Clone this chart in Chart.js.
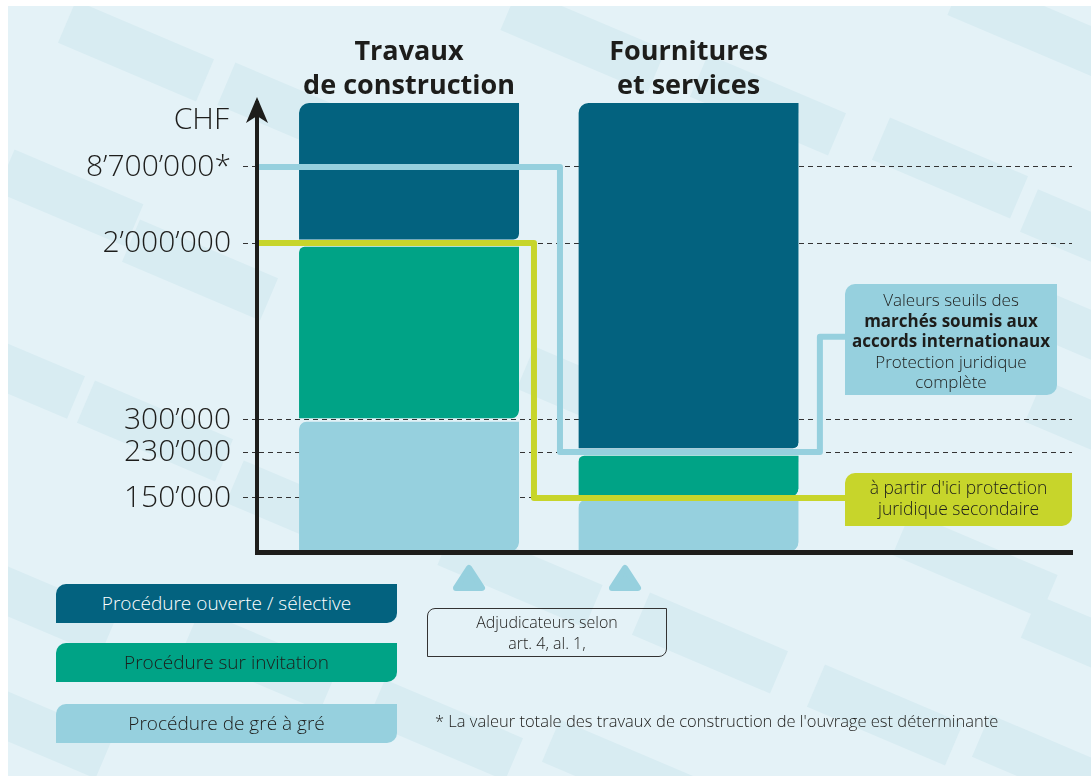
<!DOCTYPE html>
<html>
<head>
<meta charset="utf-8">
<title>Valeurs seuils</title>
<script src="https://cdn.jsdelivr.net/npm/chart.js@4.4.1/dist/chart.umd.min.js"></script>
<style>
  body { margin:0; width:1091px; height:776px; overflow:hidden; background:#fff; position:relative;
         font-family:'Open Sans', sans-serif; color:#1d1d1b; }
  #page { position:absolute; left:8px; top:6px; width:1083px; height:770px; background:#e4f2f7; overflow:hidden; }
  .stripe { position:absolute; height:46px; background:#d8ecf2; transform:translate(-50%,-50%) rotate(23deg); }
  #chartbox { position:absolute; left:0; top:0; width:1091px; height:776px; z-index:1; }
  .box { position:absolute; z-index:2; text-align:center; box-sizing:border-box; border-radius:10px 0 10px 0; }
  .legend-item { left:56px; width:341px; height:39px; line-height:39px; font-size:19px; font-weight:300; }
  #intl { left:845px; top:284px; width:212px; height:111px; background:#96d0de; font-size:17px;
          line-height:20.5px; padding-top:6px; font-weight:300; white-space:nowrap; }
  #intl b { font-weight:700; }
  #sec { left:845px; top:473px; width:227px; height:53px; background:#c7d52b; font-size:17.5px;
         line-height:21px; padding-top:4px; font-weight:300; white-space:nowrap; }
  #adjud { left:427px; top:608px; width:240px; height:49px; border:1px solid #333; border-radius:8px 0 8px 0;
           font-size:16px; line-height:21px; padding-top:3px; font-weight:300; }
  #note { position:absolute; z-index:2; left:435px; top:709px; font-size:16.5px; font-weight:300; white-space:nowrap; }
  .tri { position:absolute; z-index:2; top:564px; }
</style>
</head>
<body>
<div id="page"></div>
<div id="chartbox"><canvas id="chart"></canvas></div>
<div id="legend"></div>
<div class="box" id="intl">Valeurs seuils des<br><b>marchés soumis aux<br>accords internationaux</b><br>Protection juridique<br>complète</div>
<div class="box" id="sec">à partir d'ici protection<br>juridique secondaire</div>
<svg class="tri" style="left:452px" width="34" height="28"><polygon points="17,4 30,24 4,24" fill="#96d0de" stroke="#96d0de" stroke-width="6" stroke-linejoin="round"/></svg>
<svg class="tri" style="left:608px" width="34" height="28"><polygon points="17,4 30,24 4,24" fill="#96d0de" stroke="#96d0de" stroke-width="6" stroke-linejoin="round"/></svg>
<div class="box" id="adjud">Adjudicateurs selon<br>art. 4, al. 1,</div>
<div id="note">* La valeur totale des travaux de construction de l'ouvrage est déterminante</div>

<script>
// data
const categories = [['Travaux', 'de construction'], ['Fournitures', 'et services']];
const seriesNames = ['Procédure ouverte / sélective', 'Procédure sur invitation', 'Procédure de gré à gré'];
const openValues = [[2000000, 12000000], [230000, 12000000]];
const invitationValues = [[300000, 2000000], [150000, 230000]];
const directValues = [[0, 300000], [0, 150000]];
const tickValues = [150000, 230000, 300000, 2000000, 8700000];
const tickLabels = ['150’000', '230’000', '300’000', '2’000’000', '8’700’000*'];
// threshold lines (x in bar units on the same axis)
const intlLineX = [0.456, 1.54, 1.54, 2.47, 2.47, 2.56];
const intlLineY = [8700000, 8700000, 230000, 230000, 1100000, 1100000];
const secLineX = [0.456, 1.447, 1.447, 2.56];
const secLineY = [2000000, 2000000, 150000, 150000];

const colors = ['#03627f', '#00a386', '#96d0de'];
const legendText = ['#ffffff', '#1d1d1b', '#1d1d1b'];

// background stripes
const stripes = [[136,51,150],[300,115,160],[583,40,160],[768,105,150],[950,168,150],[1030,25,160],
  [1075,230,100],[70,198,140],[200,270,150],[30,378,100],[155,431,150],[290,505,120],[590,395,140],
  [1080,330,120],[1080,420,100],[975,565,160],[40,605,150],[260,660,150],[40,730,140],[445,730,150],
  [520,575,160],[710,643,150],[885,715,150],[1085,640,120],[620,770,150],[1050,765,150]];
const page = document.getElementById('page');
stripes.forEach(s => {
  const d = document.createElement('div');
  d.className = 'stripe';
  d.style.left = (s[0] - 8) + 'px';
  d.style.top = (s[1] - 6) + 'px';
  d.style.width = s[2] + 'px';
  page.appendChild(d);
});

// legend
const legend = document.getElementById('legend');
const legendTops = [584, 643, 704];
seriesNames.forEach((n, i) => {
  const d = document.createElement('div');
  d.className = 'box legend-item';
  d.style.top = legendTops[i] + 'px';
  d.style.background = colors[i];
  d.style.color = legendText[i];
  d.textContent = n;
  legend.appendChild(d);
});

// piecewise linear value axis
class BreakScale extends Chart.LinearScale {
  getPixelForValue(value) {
    const b = this.options.breaks;
    let d = 1;
    for (let i = 1; i < b.length; i++) {
      if (value <= b[i][0]) {
        d = b[i-1][1] + (value - b[i-1][0]) / (b[i][0] - b[i-1][0]) * (b[i][1] - b[i-1][1]);
        break;
      }
    }
    return this.getPixelForDecimal(d);
  }
  getValueForPixel(pixel) {
    const b = this.options.breaks;
    const d = this.getDecimalForPixel(pixel);
    for (let i = 1; i < b.length; i++) {
      if (d <= b[i][1]) {
        return b[i-1][0] + (d - b[i-1][1]) / (b[i][1] - b[i-1][1]) * (b[i][0] - b[i-1][0]);
      }
    }
    return b[b.length - 1][0];
  }
}
BreakScale.id = 'breaks';
BreakScale.defaults = {};
Chart.register(BreakScale);

const axisExtras = {
  id: 'axisExtras',
  afterDraw(chart) {
    const {ctx, chartArea} = chart;
    const x = chartArea.left, top = chartArea.top;
    ctx.save();
    ctx.fillStyle = '#1d1d1b';
    ctx.beginPath();
    ctx.moveTo(x, top - 6);
    ctx.lineTo(x + 11, top + 20);
    ctx.lineTo(x, top + 13);
    ctx.lineTo(x - 11, top + 20);
    ctx.closePath();
    ctx.fill();
    ctx.font = '300 30px "Open Sans"';
    ctx.textAlign = 'right';
    ctx.textBaseline = 'middle';
    ctx.fillText('CHF', x - 28, top + 17);
    ctx.restore();
  }
};

const barSets = [openValues, invitationValues, directValues];
const gaps = [{top:0, bottom:4, left:0, right:0}, {top:4, bottom:2, left:0, right:0}, {top:2, bottom:0, left:0, right:0}];
const datasets = barSets.map((vals, i) => ({
  type: 'bar',
  label: seriesNames[i],
  data: vals.map((v, j) => ({x: j + 1, y: v})),
  backgroundColor: colors[i],
  borderColor: 'rgba(0,0,0,0)',
  borderWidth: gaps[i],
  borderSkipped: false,
  borderRadius: {topLeft: 10, topRight: 0, bottomLeft: 0, bottomRight: 10},
  barThickness: 220,
  grouped: false,
  order: 1
}));
datasets.push({
  type: 'line', label: 'intl',
  data: intlLineX.map((x, i) => ({x: x, y: intlLineY[i]})),
  borderColor: '#96d0de', borderWidth: 6, pointRadius: 0, borderJoinStyle: 'round', order: 0
});
datasets.push({
  type: 'line', label: 'sec',
  data: secLineX.map((x, i) => ({x: x, y: secLineY[i]})),
  borderColor: '#c7d52b', borderWidth: 6, pointRadius: 0, borderJoinStyle: 'round', order: 0
});

const catTicks = axis => { axis.ticks = categories.map((c, i) => ({value: i + 1})); };

new Chart(document.getElementById('chart'), {
  data: {datasets: datasets},
  options: {
    responsive: true,
    maintainAspectRatio: false,
    animation: false,
    events: [],
    layout: {padding: {left: 0, right: 19, top: 0, bottom: 0}},
    plugins: {legend: {display: false}, tooltip: {enabled: false}},
    scales: {
      x: {
        type: 'linear', position: 'bottom', min: 0.456, max: 3.372, offset: false,
        afterBuildTicks: catTicks,
        afterFit: axis => { axis.height = 224; },
        ticks: {display: false},
        grid: {display: false, drawTicks: false, offset: false},
        border: {display: true, color: '#1d1d1b', width: 5, z: 1}
      },
      xt: {
        type: 'linear', position: 'top', min: 0.456, max: 3.372, offset: false,
        afterBuildTicks: catTicks,
        afterFit: axis => { axis.height = 103; },
        ticks: {
          autoSkip: false, maxRotation: 0, padding: 0, color: '#1d1d1b',
          font: {family: 'Open Sans', size: 27, weight: 'bold', lineHeight: 1.25},
          callback: v => categories[v - 1]
        },
        grid: {display: false, drawTicks: false},
        border: {display: false}
      },
      y: {
        type: 'breaks', min: 0, max: 12000000,
        breaks: [[0, 0], [150000, 0.1203], [230000, 0.2227], [300000, 0.294], [2000000, 0.688], [8700000, 0.8575], [12000000, 1]],
        afterBuildTicks: axis => { axis.ticks = tickValues.map(v => ({value: v})); },
        afterFit: axis => { axis.width = 257; },
        ticks: {
          padding: 12, color: '#1d1d1b',
          font: {family: 'Open Sans', size: 30, weight: '300'},
          callback: v => tickLabels[tickValues.indexOf(v)]
        },
        grid: {color: '#333', lineWidth: 1, tickLength: 14, tickBorderDash: [5, 4], tickColor: '#333'},
        border: {display: true, color: '#1d1d1b', width: 4, dash: [5, 4], z: 1}
      }
    }
  },
  plugins: [axisExtras]
});
</script>
</body>
</html>
